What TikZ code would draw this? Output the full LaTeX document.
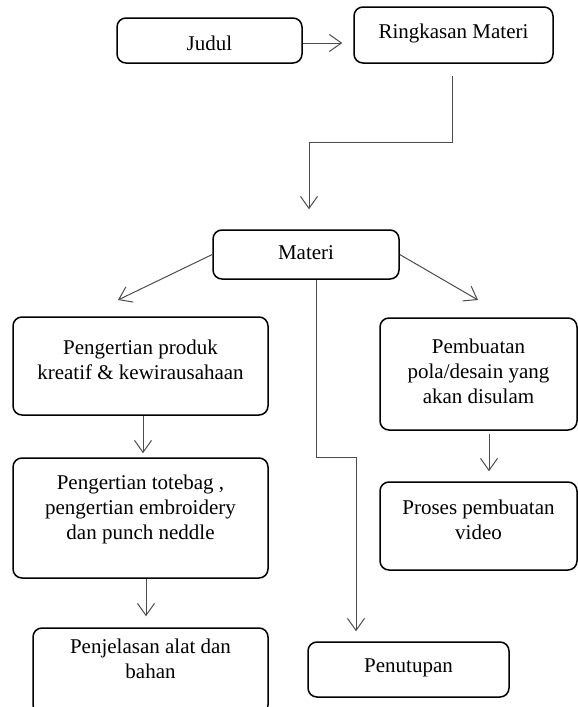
\documentclass[tikz,border=0pt]{standalone}
\usepackage{fontspec}
\setmainfont{Liberation Serif}
\usetikzlibrary{arrows.meta}
\begin{document}
\begin{tikzpicture}[x=1pt,y=-1pt,
  box/.style={draw=black,line width=1.5pt,rounded corners=9pt,minimum width=#1,inner sep=0pt},
  txt/.style={align=center,font=\fontsize{21}{25}\selectfont,inner sep=0pt},
  conn/.style={draw=black!70,line width=1pt},
  arr/.style={conn,-{Straight Barb[length=12pt,width=17pt,line width=1pt]}}
]
\useasboundingbox (0,0) rectangle (578,707);
\clip (0,0) rectangle (578,707);
% boxes
\node[box=185pt,minimum height=45pt] (judul) at (209.5,40.5) {};
\node[txt] (tjudul) at (209.5,43) {Judul};
\node[box=199pt,minimum height=56pt] (ringkasan) at (453.5,35) {};
\node[txt] (tringkasan) at (453.5,33) {Ringkasan Materi};
\node[box=186pt,minimum height=49pt] (materi) at (306,254.5) {};
\node[txt] (tmateri) at (306,253) {Materi};
\node[box=255pt,minimum height=98pt] (produk) at (140.5,366) {};
\node[txt] (tproduk) at (140.5,359.5) {Pengertian produk\\kreatif \& kewirausahaan};
\node[box=255pt,minimum height=120pt] (totebag) at (140.5,518) {};
\node[txt] (ttotebag) at (140.5,509) {Pengertian totebag ,\\pengertian embroidery\\dan punch neddle};
\node[box=235pt,minimum height=86pt] (penjelasan) at (150.5,671) {};
\node[txt] (tpenjelasan) at (150.5,658.5) {Penjelasan alat dan\\bahan};
\node[box=197pt,minimum height=112pt] (pembuatan) at (478.5,374) {};
\node[txt] (tpembuatan) at (478.5,371) {Pembuatan\\pola/desain yang\\akan disulam};
\node[box=197pt,minimum height=88pt] (proses) at (478.5,526) {};
\node[txt] (tproses) at (478.5,520) {Proses pembuatan\\video};
\node[box=201pt,minimum height=55pt] (penutupan) at (408.5,669.5) {};
\node[txt] (tpenutupan) at (408.5,668) {Penutupan};
% helper coordinates
\coordinate (k1) at (452,142);
\coordinate (k2) at (309,142);
\coordinate (a1) at (118,300);
\coordinate (a2) at (478,300);
\coordinate (p0) at (316,279);
\coordinate (p1) at (316,457);
\coordinate (p2) at (356,457);
\coordinate (v1) at (143,0);
\coordinate (v2) at (146,0);
\coordinate (v3) at (489,0);
% connectors
\draw[arr,shorten >=11pt] (judul.east |- tjudul) -- (ringkasan.west |- tjudul);
\draw[arr,shorten <=12pt,shorten >=20pt] (ringkasan.south -| k1) -- (k1) -- (k2) -- (materi.north -| k2);
\draw[arr] (materi.west) -- (a1);
\draw[arr] (materi.east) -- (a2);
\draw[arr,shorten >=10pt] (materi.south -| p0) -- (p1) -- (p2) -- (penutupan.north -| p2);
\draw[arr,shorten >=4pt] (produk.south -| v1) -- (totebag.north -| v1);
\draw[arr,shorten >=11pt] (totebag.south -| v2) -- (penjelasan.north -| v2);
\draw[arr,shorten <=3pt,shorten >=10pt] (pembuatan.south -| v3) -- (proses.north -| v3);
\end{tikzpicture}
\end{document}
